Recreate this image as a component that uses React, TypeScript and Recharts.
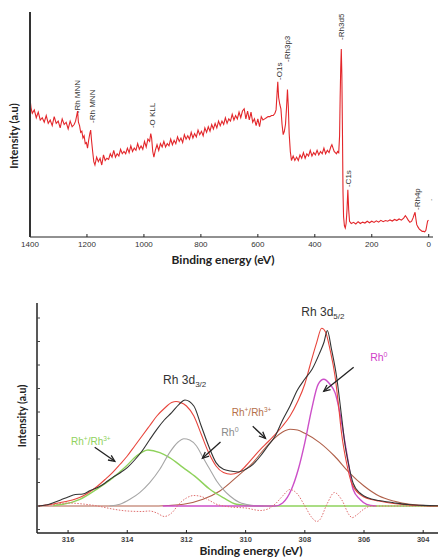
import React from 'react'
import { LineChart, Line, XAxis, YAxis, ReferenceDot, ReferenceLine } from 'recharts'

// ---- survey spectrum (top) ----
const surveyTicks = [1400, 1200, 1000, 800, 600, 400, 200, 0]
const surveyEnergy = [
  1400, 1396, 1392, 1385, 1378, 1371, 1364, 1357, 1350, 1343,
  1336, 1329, 1322, 1315, 1308, 1301, 1294, 1287, 1280, 1273,
  1266, 1259, 1252, 1245, 1240, 1236, 1233, 1230, 1226, 1222,
  1218, 1214, 1210, 1206, 1202, 1198, 1194, 1190, 1187, 1184,
  1180, 1176, 1172, 1166, 1160, 1154, 1148, 1142, 1136, 1130,
  1124, 1118, 1112, 1106, 1100, 1094, 1088, 1082, 1076, 1070,
  1064, 1058, 1052, 1046, 1040, 1034, 1028, 1022, 1016, 1010,
  1004, 998, 992, 986, 980, 976, 973, 969, 965, 960,
  954, 948, 942, 936, 930, 924, 918, 912, 906, 900,
  894, 888, 882, 876, 870, 864, 858, 852, 846, 840,
  834, 828, 822, 816, 810, 804, 798, 792, 786, 780,
  774, 768, 762, 756, 750, 744, 738, 732, 726, 720,
  714, 708, 702, 696, 690, 684, 678, 672, 666, 660,
  654, 648, 642, 636, 630, 624, 618, 612, 606, 600,
  594, 588, 582, 576, 570, 564, 558, 552, 546, 540,
  536, 532, 530, 527, 523, 519, 515, 511, 507, 503,
  499, 496, 493, 490, 486, 482, 476, 470, 464, 458,
  452, 446, 440, 434, 428, 422, 416, 410, 404, 398,
  392, 386, 380, 374, 368, 362, 356, 350, 344, 340,
  336, 332, 328, 324, 320, 316, 313, 311, 309, 307,
  305, 303, 301, 299, 296, 293, 290, 287, 284, 281,
  278, 272, 264, 256, 248, 240, 232, 224, 216, 208,
  200, 192, 184, 176, 168, 160, 152, 144, 136, 128,
  120, 112, 104, 96, 88, 82, 78, 72, 66, 60,
  55, 51, 48, 45, 42, 38, 33, 28, 23, 18,
  14, 10, 7, 4, 1,
]
const surveyIntensity = [
  61.5, 57, 55, 56.5, 53, 55.5, 52, 53, 51, 54,
  50.5, 52, 49.5, 53.5, 50.5, 51.5, 48.5, 52.5, 50, 51,
  48, 51.5, 49, 50, 51.5, 54, 56, 51, 49.5, 46.5,
  47, 44, 45, 41.5, 42, 39.5, 43, 46, 47.5, 43,
  38, 33.5, 32, 35.5, 33.5, 35, 32, 36.5, 34, 35,
  34.5, 37, 35.5, 38.5, 35.5, 37, 36, 39, 37, 38,
  37, 39.5, 37.5, 40.5, 38, 39.5, 38.5, 41.5, 39, 40.5,
  39, 42.5, 40, 43.5, 42.5, 46, 44, 38, 35.5, 38.5,
  41, 38.5, 41.5, 40, 42.5, 40, 41.5, 40.5, 43.5, 41,
  43, 41.5, 44.5, 42.5, 44, 42, 45.5, 43.5, 45, 43.5,
  46.5, 44, 46, 44.5, 47.5, 45.5, 47, 45, 48.5, 46.5,
  49, 47, 50, 48, 50.5, 48.5, 51.5, 49.5, 51.5, 50,
  53, 50.5, 52.5, 51.5, 54.5, 52, 54, 52.5, 55.5, 53,
  56, 57, 52.5, 56, 52, 55.5, 51, 52.5, 49.5, 52.5,
  49, 53.5, 52, 52.5, 53, 53.5, 53.5, 54, 54, 55,
  56.5, 65, 69, 62, 59, 57, 50, 45.5, 47, 50,
  58, 65.5, 58, 46, 38, 34, 36, 34, 35.5, 34,
  36.5, 35, 37.5, 35, 37, 36, 38.5, 36, 37.5, 36.5,
  38.5, 36.5, 38, 37, 39.5, 37, 38.5, 37.5, 40, 41,
  39.5, 38, 37.5, 37, 38, 37.5, 45, 62, 75, 83.5,
  72, 48, 20, 9, 5, 4, 6, 12, 21, 12,
  7, 6, 6.5, 5.8, 6.8, 6, 6.6, 6.2, 7, 6.3,
  7, 6.5, 7.2, 6.6, 7.4, 6.8, 7.3, 7, 7.6, 7.1,
  7.8, 7.3, 8, 7.5, 8.4, 9.5, 8.8, 7.5, 6.5, 7,
  8.5, 10, 11, 8, 5.5, 4.5, 3.5, 3, 2.5, 2.5,
  2.3, 3, 5, 7, 7.5,
]
const peakNames = ['-Rh MNN', '-Rh MNN', '-O KLL', '-O1s', '-Rh3p3', '-Rh3d5', '-C1s', '-Rh4p', '.']
const peakEnergy = [1236, 1184, 970, 527, 496, 307, 282, 40, 0]
const peakLevel = [55, 50.7, 48.4, 69.8, 77.8, 87.6, 22.2, 12, 16]

// ---- Rh 3d high resolution (bottom) ----
const rhTicks = [316, 314, 312, 310, 308, 306, 304]
const rhYTicks = [-23.5, 0, 23.5, 47, 70.5, 94, 117.5, 141, 164.5, 188]

const expE = [
  317, 316.75, 316.5, 316.25, 316, 315.75, 315.5, 315.25, 315, 314.75,
  314.5, 314.25, 314, 313.75, 313.5, 313.25, 313, 312.75, 312.5, 312.25,
  312.05, 311.75, 311.5, 311.25, 311, 310.75, 310.5, 310.25, 310, 309.75,
  309.5, 309.25, 309, 308.75, 308.5, 308.25, 308, 307.75, 307.5, 307.35,
  307.24, 307.1, 306.93, 306.76, 306.65, 306.53, 306.37, 306.14, 306, 305.75,
  305.5, 305.25, 305, 304.5, 304, 303.5,
]
const expI = [
  0, 1, 3.3, 6, 9, 11.5, 12, 15.5, 18.4, 23,
  28.4, 33, 38.4, 46, 55, 66, 76.7, 86, 93.4, 101.7,
  106, 100, 80, 60, 43.4, 36.7, 35, 34, 36.7, 41.7,
  50, 60, 70, 86, 100, 116, 127, 137, 153, 164,
  175.5, 157, 130, 90, 63, 43, 23, 13, 10, 7,
  5.5, 4.3, 3.3, 1.5, 0.6, 0.2,
]
const fitE = [
  317, 316.75, 316.5, 316.25, 316, 315.75, 315.5, 315.25, 315, 314.75,
  314.5, 314.25, 314, 313.75, 313.5, 313.25, 313, 312.75, 312.5, 312.35,
  312.2, 312, 311.75, 311.5, 311.25, 311, 310.75, 310.5, 310.25, 310,
  309.75, 309.5, 309.25, 309, 308.75, 308.5, 308.25, 308, 307.83, 307.6,
  307.43, 307.3, 307.15, 306.98, 306.87, 306.76, 306.59, 306.42, 306.14, 306,
  305.75, 305.5, 305, 304.5, 304, 303.5,
]
const fitI = [
  0, 1, 2, 3.5, 5, 7, 10, 14.5, 20, 26.5,
  33.4, 41.5, 50, 60, 70, 80, 90, 97.5, 103.4, 104.5,
  103.5, 100, 90, 71.7, 53.4, 40, 33.4, 31.7, 33.4, 40,
  48.4, 56.7, 64, 71.7, 80, 90, 104, 122, 140, 163.4,
  177.7, 174, 156.7, 130, 103, 73, 43, 23, 11.7, 9,
  6.5, 5, 2.5, 1, 0.3, 0,
]
const rh0aE = [314.6, 314.25, 313.91, 313.58, 313.24, 312.9, 312.57, 312.28, 312.09, 311.89, 311.66, 311.44, 311.21, 310.98, 310.76, 310.53, 310.2, 309.8, 309.4]
const rh0aI = [0, 1.7, 6.7, 13.4, 23.4, 36.7, 53.4, 64, 67.3, 66, 60, 48.4, 36.7, 25, 16.7, 10, 3.4, 0.8, 0]
const ionAE = [316.5, 316.17, 315.6, 315.04, 314.48, 314.03, 313.69, 313.3, 312.9, 312.57, 312.11, 311.66, 311.21, 310.76, 310.31, 309.7, 308, 306, 304, 303.5]
const ionAI = [0.5, 1.7, 6.7, 16.7, 28.4, 40, 50, 56, 53.4, 48.4, 38.4, 28.4, 16.7, 8.4, 1.7, 0, 0, 0, 0, 0]
const ionBE = [317, 313, 312.6, 312.1, 311.44, 310.87, 310.2, 309.75, 309.4, 309, 308.75, 308.5, 308.25, 308, 307.5, 307, 306.5, 306, 305.49, 305, 304.45, 303.5]
const ionBI = [0, 0, 0.5, 1.7, 6.7, 15, 31.7, 43.4, 56, 68.4, 74, 76.7, 76, 72.7, 63.4, 50, 33.4, 20, 10, 5, 1.7, 0]
const rh0bE = [312.8, 309, 308.75, 308.45, 308.22, 308, 307.77, 307.55, 307.36, 307.15, 306.98, 306.84, 306.7, 306.53, 306.37, 306.14, 305.91, 305.6]
const rh0bI = [0, 0, 3, 16.7, 36.7, 63.4, 96.7, 121.7, 126.7, 121.7, 113.4, 96.7, 73.4, 43.4, 16.7, 6.7, 1.7, 0]
const resE = [
  317, 316.5, 316, 315.5, 315, 314.5, 314, 313.5, 313.25, 313,
  312.75, 312.5, 312.25, 312, 311.75, 311.5, 311.25, 311, 310.5, 310,
  309.5, 309.25, 309, 308.75, 308.5, 308.25, 308, 307.75, 307.6, 307.5,
  307.25, 307, 306.75, 306.5, 306.4, 306.25, 306, 305.75, 305, 303.5,
]
const resI = [
  0, 1.5, 3, 2, 0, -3, -5, -5.5, -5, -7,
  -10.5, -7, 2, 8, 10.5, 9.5, 6, 2, -1, -2,
  -4.5, -3, 2, 10, 16.5, 12, 0, -12, -15.5, -14,
  2, 13.5, 6, -9, -11.7, -9, -3, 0, 0, 0,
]

// annotation anchors (energy, intensity)
const arrows = [
  { from: [315.1, 58.7], to: [314.42, 44.7] },
  { from: [310.85, 64], to: [311.46, 47.7] },
  { from: [309.76, 79.7], to: [309.33, 67.7] },
  { from: [306.35, 138.7], to: [307.36, 114.7] },
]

const zip = (xs: number[], ys: number[]) => xs.map((e, i) => ({ e, v: ys[i] }))

const TICK_FONT = { fontSize: 8, fill: '#333', fontFamily: 'Liberation Sans, Arial, sans-serif' }

const Arrow = (p: any) => {
  const { x1, y1, x2, y2 } = p
  const a = Math.atan2(y2 - y1, x2 - x1)
  const L = 7
  const w = 0.42
  const pts = `${x2 - L * Math.cos(a - w)},${y2 - L * Math.sin(a - w)} ${x2},${y2} ${x2 - L * Math.cos(a + w)},${y2 - L * Math.sin(a + w)}`
  return (
    <g>
      <line x1={x1} y1={y1} x2={x2} y2={y2} stroke="#222" strokeWidth={1.3} />
      <polyline points={pts} fill="none" stroke="#222" strokeWidth={1.3} />
    </g>
  )
}

const ionLabel = (color: string) => (p: any) => (
  <text x={p.cx} y={p.cy} textAnchor="middle" fontSize={10} fill={color} fontFamily="Liberation Sans, Arial, sans-serif">
    Rh<tspan fontSize={6.5} dy={-4}>+</tspan><tspan dy={4}>/Rh</tspan><tspan fontSize={6.5} dy={-4}>3+</tspan>
  </text>
)
const rh0Label = (color: string) => (p: any) => (
  <text x={p.cx} y={p.cy} textAnchor="middle" fontSize={10.5} fill={color} fontFamily="Liberation Sans, Arial, sans-serif">
    Rh<tspan fontSize={7} dy={-4}>0</tspan>
  </text>
)
const bandLabel = (sub: string) => (p: any) => (
  <text x={p.cx} y={p.cy} textAnchor="middle" fontSize={12} fill="#333" fontFamily="Liberation Sans, Arial, sans-serif">
    Rh 3d<tspan fontSize={8} dy={3}>{sub}</tspan>
  </text>
)

const titleStyle: React.CSSProperties = {
  position: 'absolute',
  fontFamily: 'Lato, sans-serif',
  fontWeight: 700,
  color: '#222',
  whiteSpace: 'nowrap',
  lineHeight: 1,
}

export default function App() {
  const survey = zip(surveyEnergy, surveyIntensity)
  return (
    <div style={{ position: 'absolute', left: 0, top: 0, width: 438, height: 559, background: '#fff', overflow: 'hidden' }}>
      <div style={{ position: 'absolute', left: 0, top: 0 }}>
        <LineChart width={438} height={270} margin={{ top: 12, right: 5, bottom: 0, left: 0 }}>
          <XAxis
            type="number"
            dataKey="e"
            domain={[-15, 1400]}
            reversed
            ticks={surveyTicks}
            allowDataOverflow
            height={33}
            tick={TICK_FONT}
            tickSize={-3}
            tickMargin={7}
            axisLine={{ stroke: '#222', strokeWidth: 1 }}
            tickLine={{ stroke: '#222' }}
          />
          <YAxis
            type="number"
            domain={[0, 100]}
            width={30}
            tick={false}
            tickLine={false}
            axisLine={{ stroke: '#333', strokeWidth: 2 }}
          />
          <Line data={survey} dataKey="v" type="linear" stroke="#e3262a" strokeWidth={1.1} dot={false} isAnimationActive={false} />
          {peakNames.map((name, i) => (
            <ReferenceDot
              key={i}
              x={peakEnergy[i]}
              y={peakLevel[i]}
              ifOverflow="visible"
              shape={(p: any) => (
                <text
                  x={p.cx + 3}
                  y={p.cy}
                  transform={`rotate(-90 ${p.cx + 3} ${p.cy})`}
                  fontSize={8}
                  fill="#333"
                  fontFamily="Liberation Sans, Arial, sans-serif"
                >
                  {name}
                </text>
              )}
            />
          ))}
        </LineChart>
      </div>
      <div style={{ ...titleStyle, left: 223, top: 260, fontSize: 12, transform: 'translate(-50%, -50%)' }}>Binding energy (eV)</div>
      <div style={{ ...titleStyle, left: 13, top: 136, fontSize: 11, transform: 'translate(-50%, -50%) rotate(-90deg)' }}>Intensity (a.u)</div>

      <div style={{ position: 'absolute', left: 0, top: 270 }}>
        <LineChart width={438} height={289} margin={{ top: 33, right: 0, bottom: 0, left: 0 }}>
          <XAxis
            type="number"
            dataKey="e"
            domain={[303.5, 317.05]}
            reversed
            ticks={rhTicks}
            allowDataOverflow
            height={26}
            tick={{ ...TICK_FONT, fontSize: 7.5, fontWeight: 700, fill: '#444' }}
            tickSize={-3}
            tickMargin={7}
            axisLine={{ stroke: '#222', strokeWidth: 1.5 }}
            tickLine={{ stroke: '#222' }}
          />
          <YAxis
            type="number"
            domain={[-27, 203]}
            width={37}
            ticks={rhYTicks}
            tickFormatter={() => ''}
            tickSize={-3}
            tickLine={{ stroke: '#444' }}
            axisLine={{ stroke: '#222', strokeWidth: 1.5 }}
          />
          <Line data={zip(ionBE, ionBI)} dataKey="v" type="monotone" stroke="#b0604a" strokeWidth={1.1} dot={false} isAnimationActive={false} />
          <Line data={zip(ionAE, ionAI)} dataKey="v" type="monotone" stroke="#8fd25c" strokeWidth={1.4} dot={false} isAnimationActive={false} />
          <Line data={zip(rh0aE, rh0aI)} dataKey="v" type="monotone" stroke="#a6a6a6" strokeWidth={1.1} dot={false} isAnimationActive={false} />
          <Line data={zip(rh0bE, rh0bI)} dataKey="v" type="monotone" stroke="#cc4fc8" strokeWidth={1.4} dot={false} isAnimationActive={false} />
          <Line data={zip(resE, resI)} dataKey="v" type="monotone" stroke="#e07070" strokeWidth={1} strokeDasharray="1.5 1.5" dot={false} isAnimationActive={false} />
          <Line data={zip(fitE, fitI)} dataKey="v" type="monotone" stroke="#e8453c" strokeWidth={1.1} dot={false} isAnimationActive={false} />
          <Line data={zip(expE, expI)} dataKey="v" type="monotone" stroke="#333" strokeWidth={1.1} dot={false} isAnimationActive={false} />
          {arrows.map((a, i) => (
            <ReferenceLine
              key={i}
              ifOverflow="visible"
              segment={[{ x: a.from[0], y: a.from[1] }, { x: a.to[0], y: a.to[1] }]}
              shape={Arrow}
            />
          ))}
          <ReferenceDot x={312.06} y={121.7} ifOverflow="visible" shape={bandLabel('3/2')} />
          <ReferenceDot x={307.39} y={189.7} ifOverflow="visible" shape={bandLabel('5/2')} />
          <ReferenceDot x={315.23} y={60.7} ifOverflow="visible" shape={ionLabel('#8fd25c')} />
          <ReferenceDot x={309.8} y={89.7} ifOverflow="visible" shape={ionLabel('#b5704a')} />
          <ReferenceDot x={310.53} y={69.7} ifOverflow="visible" shape={rh0Label('#8a8a8a')} />
          <ReferenceDot x={305.5} y={144.7} ifOverflow="visible" shape={rh0Label('#d040c8')} />
        </LineChart>
      </div>
      <div style={{ ...titleStyle, left: 251, top: 551, fontSize: 12, transform: 'translate(-50%, -50%)' }}>Binding energy (eV)</div>
      <div style={{ ...titleStyle, left: 22, top: 416, fontSize: 10.5, transform: 'translate(-50%, -50%) rotate(-90deg)' }}>Intensity (a.u)</div>
    </div>
  )
}
